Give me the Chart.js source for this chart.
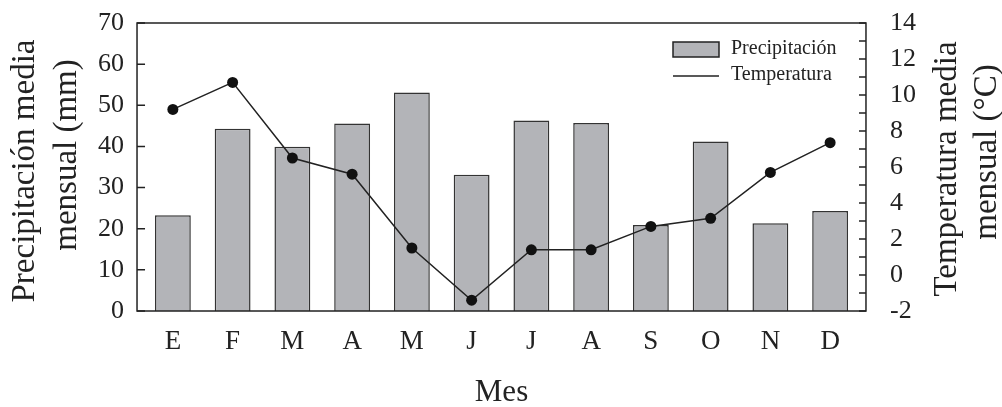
<!DOCTYPE html>
<html>
<head>
<meta charset="utf-8">
<script src="https://cdn.jsdelivr.net/npm/chart.js@4"></script>
<style>
  body { margin: 0; background: #fff; }
  #wrap { width: 1002px; height: 407px; }
</style>
</head>
<body>
<div id="wrap"><canvas id="myChart" width="1002" height="407"></canvas></div>
<script>
var meses = ['E', 'F', 'M', 'A', 'M', 'J', 'J', 'A', 'S', 'O', 'N', 'D'];
var precipitacion = [23.3, 44.3, 39.9, 45.6, 53.1, 33.1, 46.3, 45.7, 20.9, 41.2, 21.3, 24.3];
var temperatura = [9.2, 10.7, 6.5, 5.6, 1.5, -1.4, 1.4, 1.4, 2.7, 3.15, 5.7, 7.35];
var ticksPrec = [0, 10, 20, 30, 40, 50, 60, 70];
var ticksTemp = [-2, 0, 2, 4, 6, 8, 10, 12, 14];

var serif = 'Liberation Serif';
var ink = '#222';

// frame (a bit wider than the category area), inward ticks, titles, legend
var extras = {
    id: 'extras',
    afterDraw: function (chart) {
        var c = chart.ctx, a = chart.chartArea;
        var x = chart.scales.x, yL = chart.scales.y, yR = chart.scales.y1;
        var ext = 0.1 * (x.getPixelForValue(1) - x.getPixelForValue(0));
        var left = a.left - ext, right = a.right + ext;
        c.save();
        c.strokeStyle = ink;
        c.lineWidth = 1.5;
        c.strokeRect(left, a.top, right - left, a.bottom - a.top);
        c.beginPath();
        ticksPrec.forEach(function (v) {
            var py = yL.getPixelForValue(v);
            c.moveTo(left, py); c.lineTo(left + 8, py);
        });
        for (var t = ticksTemp[0]; t <= ticksTemp[ticksTemp.length - 1]; t++) {
            var py = yR.getPixelForValue(t);
            c.moveTo(right, py); c.lineTo(right - 7, py);
        }
        c.stroke();

        c.fillStyle = ink;
        c.textAlign = 'center';
        c.textBaseline = 'middle';
        c.font = '33px "' + serif + '"';
        c.save();
        c.translate(25, 171);
        c.rotate(-Math.PI / 2);
        c.fillText('Precipitación media', 0, 0);
        c.fillText('mensual (mm)', 16, 42);
        c.restore();
        c.save();
        c.translate(947, 169);
        c.rotate(-Math.PI / 2);
        c.fillText('Temperatura media', 0, 0);
        c.fillText('mensual (°C)', 17, 40);
        c.restore();
        c.font = '31px "' + serif + '"';
        c.fillText('Mes', (left + right) / 2, 393);

        // legend
        c.fillStyle = '#b3b4b8';
        c.fillRect(673, 42, 46, 15);
        c.strokeRect(673, 42, 46, 15);
        c.beginPath();
        c.moveTo(673, 76); c.lineTo(719, 76);
        c.stroke();
        c.fillStyle = ink;
        c.textAlign = 'left';
        c.font = '20px "' + serif + '"';
        c.fillText('Precipitación', 731, 49);
        c.fillText('Temperatura', 731, 75);
        c.restore();
    }
};

function noPad(s) {
    s.paddingTop = 0; s.paddingBottom = 0;
    s.paddingLeft = 0; s.paddingRight = 0;
}

var ctx = document.getElementById('myChart').getContext('2d');
var myChart = new Chart(ctx, {
    type: 'bar',
    data: {
        labels: meses,
        datasets: [{
            type: 'line',
            label: 'Temperatura',
            data: temperatura,
            yAxisID: 'y1',
            borderColor: ink,
            borderWidth: 1.5,
            backgroundColor: ink,
            pointRadius: 5.5,
            pointBackgroundColor: '#111',
            pointBorderWidth: 0,
            tension: 0
        }, {
            label: 'Precipitación',
            data: precipitacion,
            yAxisID: 'y',
            backgroundColor: '#b3b4b8',
            borderColor: '#333',
            borderWidth: 1.5,
            barPercentage: 0.6,
            categoryPercentage: 1
        }]
    },
    options: {
        responsive: false,
        animation: false,
        layout: { padding: { top: 23, left: 0, right: 0, bottom: 0 } },
        plugins: {
            legend: { display: false },
            tooltip: { enabled: false }
        },
        scales: {
            x: {
                offset: true,
                grid: { display: false, drawTicks: false },
                border: { display: false },
                ticks: { color: ink, padding: 15, autoSkip: false, maxRotation: 0, font: { family: serif, size: 27 } },
                afterFit: function (s) { s.height = 96; noPad(s); }
            },
            y: {
                position: 'left',
                min: 0, max: 70,
                afterBuildTicks: function (s) { s.ticks = ticksPrec.map(function (v) { return { value: v }; }); },
                grid: { display: false, drawTicks: false },
                border: { display: false },
                ticks: { color: ink, padding: 19, autoSkip: false, font: { family: serif, size: 26 } },
                afterFit: function (s) { s.width = 143; noPad(s); }
            },
            y1: {
                position: 'right',
                min: -2, max: 14,
                afterBuildTicks: function (s) { s.ticks = ticksTemp.map(function (v) { return { value: v }; }); },
                grid: { display: false, drawTicks: false },
                border: { display: false },
                ticks: { color: ink, padding: 30, autoSkip: false, font: { family: serif, size: 26 } },
                afterFit: function (s) { s.width = 142; noPad(s); }
            }
        }
    },
    plugins: [extras]
});
</script>
</body>
</html>
